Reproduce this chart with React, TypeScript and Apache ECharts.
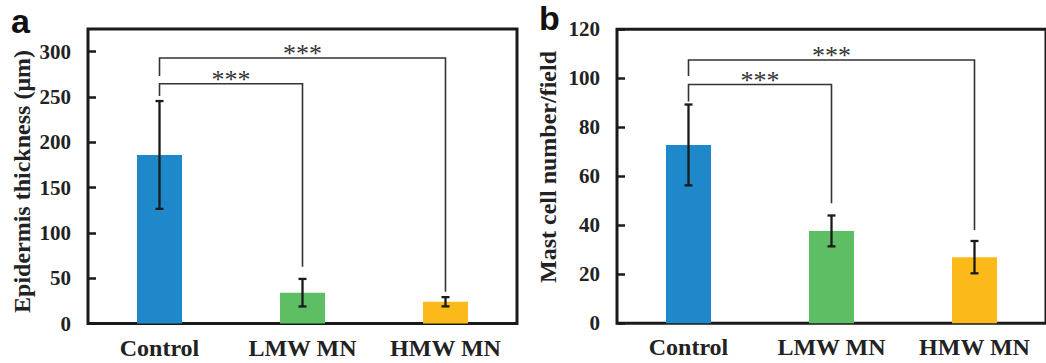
import React, { useEffect, useRef } from "react";
import * as echarts from "echarts";

const categories = ["Control", "LMW MN", "HMW MN"];
const barColors = ["#1F88CA", "#5DBE63", "#FBBA19"];

// Panel a: epidermis thickness (μm)
const thicknessMean = [186, 34, 24];
const thicknessSd = [59.5, 15.2, 5.1];
const thicknessAxis = { min: 0, max: 325, interval: 50 };
// [fromIndex, toIndex, bracketY, leftLegEnd, rightLegEnd]
const thicknessBrackets = [
  [0, 2, 293, 273, 35],
  [0, 1, 264.6, 251, 62.5],
];

// Panel b: mast cell number / field
const mastMean = [72.8, 37.7, 27];
const mastSd = [16.5, 6.3, 6.6];
const mastAxis = { min: 0, max: 120, interval: 20 };
const mastBrackets = [
  [0, 2, 107.5, 100.9, 38.1],
  [0, 1, 97.5, 90.5, 49],
];

const sigLabel = "***";
const SERIF = "'Liberation Serif', 'Times New Roman', serif";
const SANS = "'Liberation Sans', Arial, sans-serif";
const INK = "#1a1a1a";

function errorRender(params: any, api: any) {
  const x = api.value(0);
  const m = api.value(1);
  const s = api.value(2);
  const top = api.coord([x, m + s]);
  const bot = api.coord([x, m - s]);
  const hw = 4;
  const st = { stroke: INK, lineWidth: 2.3 };
  return {
    type: "group",
    children: [
      { type: "line", shape: { x1: top[0], y1: top[1], x2: bot[0], y2: bot[1] }, style: st },
      { type: "line", shape: { x1: top[0] - hw, y1: top[1], x2: top[0] + hw, y2: top[1] }, style: st },
      { type: "line", shape: { x1: bot[0] - hw, y1: bot[1], x2: bot[0] + hw, y2: bot[1] }, style: st },
    ],
  };
}

function bracketRender(params: any, api: any) {
  const a = api.value(0);
  const b = api.value(1);
  const y = api.value(2);
  const l = api.value(3);
  const r = api.value(4);
  const p1 = api.coord([a, l]);
  const p2 = api.coord([a, y]);
  const p3 = api.coord([b, y]);
  const p4 = api.coord([b, r]);
  return {
    type: "group",
    children: [
      {
        type: "polyline",
        shape: { points: [p1, p2, p3, p4] },
        style: { stroke: "#333", lineWidth: 1.6, fill: null },
      },
      {
        type: "text",
        x: (p2[0] + p3[0]) / 2,
        y: p2[1] - 4,
        style: {
          text: sigLabel,
          fontSize: 26,
          fontFamily: SERIF,
          fill: "#333",
          align: "center",
          verticalAlign: "middle",
        },
      },
    ],
  };
}

function makeAxes(idx: number, ax: { min: number; max: number; interval: number }, hideMax: boolean) {
  const xAxis = {
    type: "category",
    gridIndex: idx,
    data: categories,
    axisLine: { show: false },
    axisTick: { show: false },
    axisLabel: {
      interval: 0,
      hideOverlap: false,
      margin: 12,
      fontFamily: SERIF,
      fontWeight: "bold",
      fontSize: 24,
      color: "#222",
    },
  };
  const yAxis = {
    type: "value",
    gridIndex: idx,
    min: ax.min,
    max: ax.max,
    interval: ax.interval,
    splitLine: { show: false },
    axisLine: { show: false },
    axisTick: { show: true, inside: true, length: 8, lineStyle: { color: INK, width: 2.5 } },
    axisLabel: {
      margin: 17,
      showMaxLabel: !hideMax,
      fontFamily: SERIF,
      fontWeight: "bold",
      fontSize: 21,
      color: "#222",
    },
  };
  return { xAxis, yAxis };
}

export default function App() {
  const ref = useRef<HTMLDivElement>(null);
  useEffect(() => {
    if (!ref.current) return;
    const chart = echarts.init(ref.current, undefined, { renderer: "svg" });
    const A = makeAxes(0, thicknessAxis, true);
    const B = makeAxes(1, mastAxis, false);
    const barData = (vals: number[]) =>
      vals.map((v, i) => ({ value: v, itemStyle: { color: barColors[i] } }));
    const errData = (m: number[], s: number[]) => m.map((v, i) => [i, v, s[i]]);
    chart.setOption({
      animation: false,
      grid: [
        { left: 88, top: 29, width: 429, height: 294.5, show: true, borderColor: INK, borderWidth: 3, backgroundColor: "transparent" },
        { left: 617, top: 29.3, width: 435, height: 294, show: true, borderColor: INK, borderWidth: 3, backgroundColor: "transparent" },
      ],
      xAxis: [A.xAxis, B.xAxis],
      yAxis: [A.yAxis, B.yAxis],
      series: [
        { type: "bar", xAxisIndex: 0, yAxisIndex: 0, barWidth: 45, data: barData(thicknessMean) },
        { type: "custom", xAxisIndex: 0, yAxisIndex: 0, renderItem: errorRender, data: errData(thicknessMean, thicknessSd), z: 5 },
        { type: "custom", xAxisIndex: 0, yAxisIndex: 0, renderItem: bracketRender, data: thicknessBrackets, z: 5 },
        { type: "bar", xAxisIndex: 1, yAxisIndex: 1, barWidth: 45, data: barData(mastMean) },
        { type: "custom", xAxisIndex: 1, yAxisIndex: 1, renderItem: errorRender, data: errData(mastMean, mastSd), z: 5 },
        { type: "custom", xAxisIndex: 1, yAxisIndex: 1, renderItem: bracketRender, data: mastBrackets, z: 5 },
      ],
      graphic: [
        { type: "text", left: 11, top: 4, style: { text: "a", font: `bold 34px ${SANS}`, fill: "#111" } },
        { type: "text", left: 539, top: 1, style: { text: "b", font: `bold 34px ${SANS}`, fill: "#111" } },
        {
          type: "text",
          x: 22,
          y: 181.5,
          rotation: Math.PI / 2,
          style: { text: "Epidermis thickness (μm)", font: `bold 24px ${SERIF}`, fill: "#222", align: "center", verticalAlign: "middle" },
        },
        {
          type: "text",
          x: 548,
          y: 167,
          rotation: Math.PI / 2,
          style: { text: "Mast cell number/field", font: `bold 24px ${SERIF}`, fill: "#222", align: "center", verticalAlign: "middle" },
        },
      ],
    });
    return () => chart.dispose();
  }, []);
  return <div ref={ref} style={{ position: "absolute", left: 0, top: 0, width: 1046, height: 363 }} />;
}
